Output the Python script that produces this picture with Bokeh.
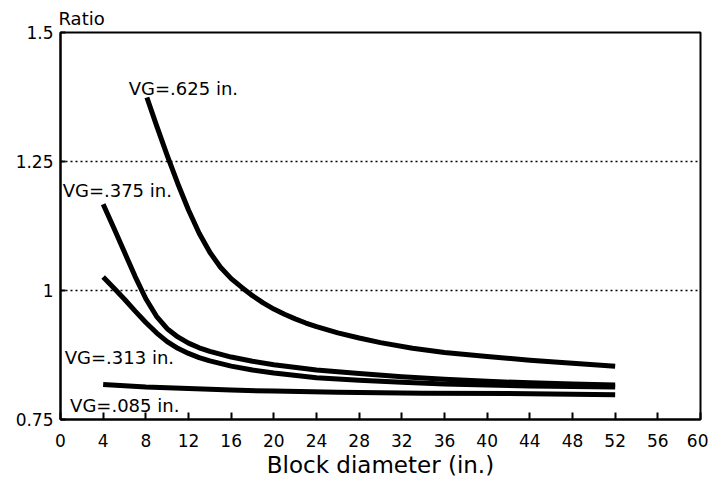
from bokeh.plotting import figure
from bokeh.models import FixedTicker, CustomJSTickFormatter, Span, Title
from bokeh.core.properties import value
from bokeh.embed import file_html
from bokeh.resources import INLINE

FONT = "DejaVu Sans"

# Block diameter (in.) vs Ratio
x_625 = [8.1, 9, 10, 11, 12, 13, 14, 15, 16, 17, 18, 19, 20, 21, 22, 23, 24, 26, 28, 30,
         33, 36, 40, 44, 48, 52]
r_625 = [1.374, 1.320, 1.262, 1.207, 1.156, 1.111, 1.074, 1.045, 1.023, 1.006, 0.990, 0.976,
         0.964, 0.954, 0.945, 0.937, 0.930, 0.918, 0.908, 0.899, 0.888, 0.880, 0.872, 0.865,
         0.859, 0.853]

x_375 = [4, 5, 6, 7, 8, 9, 10, 11, 12, 13, 14, 16, 18, 20, 24, 28, 32, 36, 40, 44, 48, 52]
r_375 = [1.167, 1.121, 1.074, 1.027, 0.984, 0.950, 0.926, 0.910, 0.898, 0.889, 0.882, 0.871,
         0.863, 0.856, 0.846, 0.839, 0.833, 0.828, 0.824, 0.821, 0.819, 0.817]

x_313 = [4, 5, 6, 7, 8, 9, 10, 11, 12, 13, 14, 16, 18, 20, 24, 28, 32, 36, 40, 44, 48, 52]
r_313 = [1.026, 1.005, 0.983, 0.960, 0.938, 0.918, 0.901, 0.888, 0.878, 0.870, 0.8635, 0.8535,
         0.846, 0.840, 0.831, 0.826, 0.822, 0.819, 0.817, 0.815, 0.814, 0.813]

x_085 = [4, 8, 12, 16, 20, 26, 34, 44, 52]
r_085 = [0.818, 0.813, 0.810, 0.807, 0.805, 0.803, 0.801, 0.800, 0.798]

curve_labels = ["VG=.625  in.", "VG=.375  in.", "VG=.313 in.", "VG=.085  in."]
label_x = [6.4, 0.2, 0.4, 0.9]
label_y = [1.391, 1.194, 0.87, 0.777]

x_ticks = list(range(0, 61, 4))
y_ticks = [0.75, 1.0, 1.25, 1.5]
grid_levels = [1.0, 1.25]

p = figure(width=708, height=482, x_range=(0, 60), y_range=(0.75, 1.5),
           output_backend="svg", toolbar_location=None,
           min_border_left=60, min_border_right=8, min_border_top=32, min_border_bottom=63)

p.title = Title(text="Ratio", align="left", offset=-2, text_font=FONT, text_color="black",
                text_font_size="18px", text_font_style="normal", standoff=8)

p.xgrid.visible = False
p.ygrid.visible = False
for lv in grid_levels:
    p.add_layout(Span(location=lv, dimension="width", line_color="black",
                      line_width=1.5, line_dash="2 3"))

p.outline_line_color = "black"
p.outline_line_width = 2

for ax in (p.xaxis[0], p.yaxis[0]):
    ax.axis_line_width = 2
    ax.major_tick_line_width = 2
    ax.minor_tick_line_color = None
    ax.major_tick_out = 0
    ax.major_label_text_font = FONT
    ax.major_label_text_font_size = "17px"
    ax.major_label_text_color = "black"

p.xaxis.ticker = FixedTicker(ticks=x_ticks)
p.xaxis.major_tick_in = 7
p.xaxis.major_label_standoff = 14
p.xaxis.axis_label = "Block diameter (in.)"
p.xaxis.axis_label_text_font = FONT
p.xaxis.axis_label_text_font_size = "23px"
p.xaxis.axis_label_text_font_style = "normal"
p.xaxis.axis_label_text_color = "black"
p.xaxis.axis_label_standoff = 2

p.yaxis.ticker = FixedTicker(ticks=y_ticks)
p.yaxis.major_tick_in = 5
p.yaxis.major_label_standoff = 7
p.yaxis.formatter = CustomJSTickFormatter(code="return tick.toString();")

for xs, rs in ((x_625, r_625), (x_375, r_375), (x_313, r_313), (x_085, r_085)):
    p.line(xs, rs, line_color="black", line_width=5, line_join="round")

p.text(x=label_x, y=label_y, text=curve_labels, text_font=value(FONT),
       text_font_size="18px", text_baseline="middle", text_align="left", text_color="black")

open("out.html", "w").write(file_html(p, INLINE))
